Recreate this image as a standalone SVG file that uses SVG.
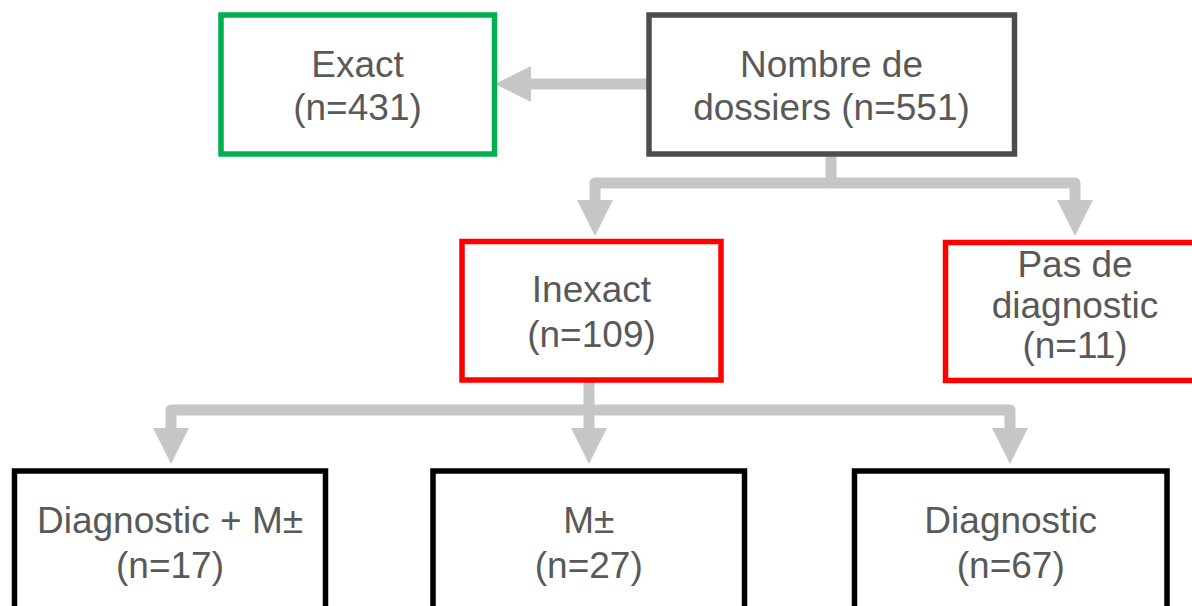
<svg xmlns="http://www.w3.org/2000/svg" width="1192" height="606" viewBox="0 0 1192 606">
  <style>
    .box { fill: #ffffff; stroke-width: 5.5; }
    .dark { stroke: #4d4d4d; }
    .green { stroke: #00b050; }
    .red { stroke: #ff0000; }
    .black { stroke: #000000; }
    .label { font-family: "Liberation Sans", Arial, sans-serif; font-size: 37px; fill: #595959; text-anchor: middle; }
    .conn { fill: none; stroke: #c6c6c6; stroke-width: 11; stroke-linejoin: round; marker-end: url(#head); }
    .plain { fill: none; stroke: #c6c6c6; stroke-width: 11; stroke-linejoin: round; }
  </style>
  <defs>
    <!-- arrowhead placed beyond the line end: base at the path end, tip 36px further -->
    <marker id="head" markerUnits="userSpaceOnUse" markerWidth="36" markerHeight="36" refX="0" refY="18" orient="auto" overflow="visible">
      <path d="M0,0 L36,18 L0,36 Z" fill="#c6c6c6"/>
    </marker>
  </defs>

  <rect width="1192" height="606" fill="#ffffff"/>

  <g id="connectors">
    <path class="conn" d="M649,84 H531"/>
    <path class="conn" d="M831,154 V183 H595 V200"/>
    <path class="conn" d="M831,183 H1075 V200"/>
    <path class="conn" d="M589,380 V428"/>
    <path class="conn" d="M589,410 H171 V428"/>
    <path class="conn" d="M589,410 H1010 V428"/>
  </g>

  <g id="exact">
    <rect class="box green" x="221" y="15" width="273.5" height="139"/>
    <text class="label" x="357.5" y="77">Exact</text>
    <text class="label" x="357.5" y="120">(n=431)</text>
  </g>

  <g id="total">
    <rect class="box dark" x="649" y="15" width="365.5" height="139"/>
    <text class="label" x="831.5" y="77">Nombre de</text>
    <text class="label" x="831.5" y="120">dossiers (n=551)</text>
  </g>

  <g id="inexact">
    <rect class="box red" x="462" y="241.5" width="259" height="138.5"/>
    <text class="label" x="591.5" y="302">Inexact</text>
    <text class="label" x="591.5" y="347">(n=109)</text>
  </g>

  <g id="no-diagnosis">
    <rect class="box red" x="945.5" y="242.5" width="259" height="138"/>
    <text class="label" x="1075" y="277">Pas de</text>
    <text class="label" x="1075" y="318">diagnostic</text>
    <text class="label" x="1075" y="358">(n=11)</text>
  </g>

  <g id="diagnosis-m">
    <rect class="box black" x="14.5" y="471" width="311" height="160"/>
    <text class="label" x="170" y="533">Diagnostic + M±</text>
    <text class="label" x="170" y="578">(n=17)</text>
  </g>

  <g id="m-only">
    <rect class="box black" x="433" y="471" width="311.5" height="160"/>
    <text class="label" x="588.75" y="533">M±</text>
    <text class="label" x="588.75" y="578">(n=27)</text>
  </g>

  <g id="diagnosis">
    <rect class="box black" x="854.5" y="471" width="312.5" height="160"/>
    <text class="label" x="1010.75" y="533">Diagnostic</text>
    <text class="label" x="1010.75" y="578">(n=67)</text>
  </g>
</svg>
